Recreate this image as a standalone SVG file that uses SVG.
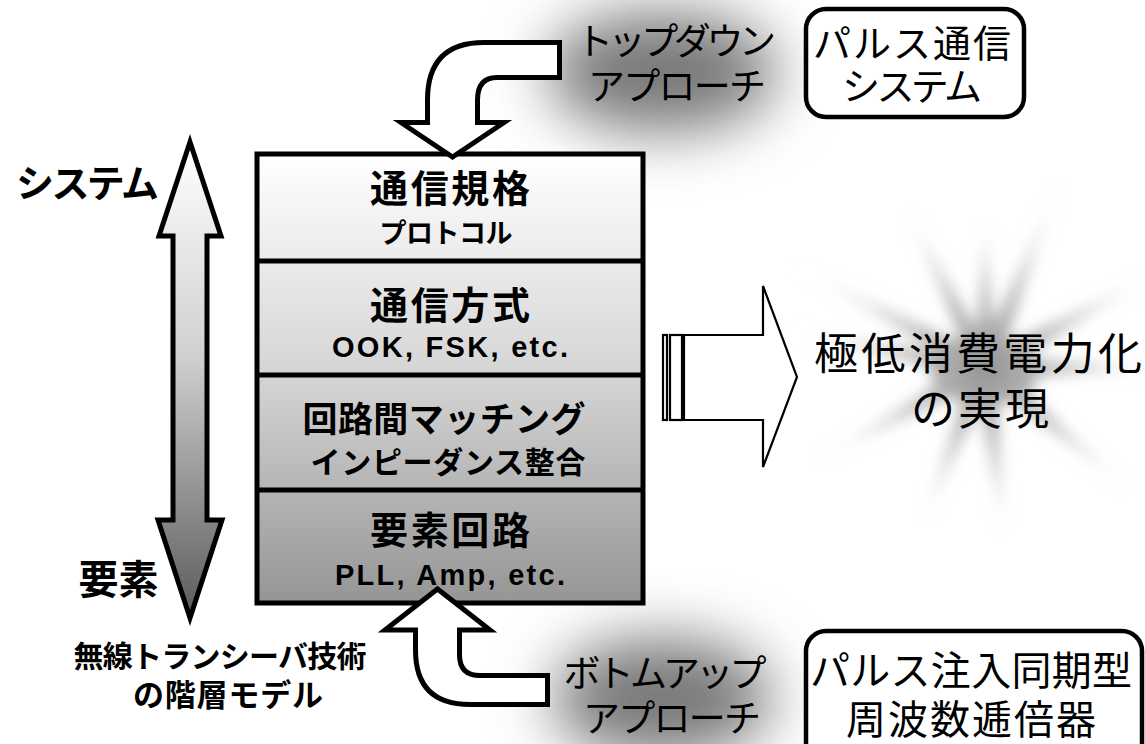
<svg xmlns="http://www.w3.org/2000/svg" width="1145" height="744" viewBox="0 0 1145 744">
<defs>
<style>
.jp{font-family:"Noto Sans CJK JP","Noto Sans CJK SC",sans-serif;fill:#000}
.b{font-weight:bold}
.lat{font-family:"Liberation Sans",Arial,sans-serif;font-weight:bold;fill:#000}
.bigarrow{fill:#fff;stroke:#000;stroke-width:5;stroke-linejoin:miter}
.thin{fill:#fff;stroke:#000;stroke-width:2.2}
</style>
<linearGradient id="stackG" gradientUnits="userSpaceOnUse" x1="0" y1="154" x2="0" y2="603">
<stop offset="0" stop-color="#ffffff"/>
<stop offset="0.5" stop-color="#d4d4d4"/>
<stop offset="1" stop-color="#959595"/>
</linearGradient>
<linearGradient id="leftG" gradientUnits="userSpaceOnUse" x1="0" y1="142" x2="0" y2="618">
<stop offset="0" stop-color="#ffffff"/>
<stop offset="0.45" stop-color="#d0d0d0"/>
<stop offset="1" stop-color="#5a5a5a"/>
</linearGradient>
<radialGradient id="burstG" gradientUnits="userSpaceOnUse" cx="985" cy="368" r="220">
<stop offset="0" stop-color="#949494"/>
<stop offset="0.45" stop-color="#d2d2d2"/>
<stop offset="1" stop-color="#ffffff" stop-opacity="0"/>
</radialGradient>
<filter id="blob" x="-100%" y="-100%" width="300%" height="300%">
<feGaussianBlur stdDeviation="30"/>
</filter>
<filter id="soft" x="-20%" y="-20%" width="140%" height="140%">
<feGaussianBlur stdDeviation="7"/>
</filter>
</defs>
<rect width="1145" height="744" fill="#fff"/>

<g id="glows">
<ellipse cx="662" cy="72" rx="115" ry="60" fill="#787878" filter="url(#blob)"/>
<ellipse cx="662" cy="698" rx="110" ry="60" fill="#787878" filter="url(#blob)"/>
<g filter="url(#soft)" fill="url(#burstG)">
<polygon points="780,331 987.1,356.2 982.9,379.8"/>
<polygon points="785,260 990.6,357.4 979.4,378.6"/>
<polygon points="910,214 995.8,362.7 974.2,373.3"/>
<polygon points="985,228 997,368 973,368"/>
<polygon points="1060,182 996.1,372.5 973.9,363.5"/>
<polygon points="1160,271 990.8,378.5 979.2,357.5"/>
<polygon points="1165,368 985,380 985,356"/>
<polygon points="1130,490 977.3,377.2 992.7,358.8"/>
<polygon points="1003,530 973.1,369.3 996.9,366.7"/>
<polygon points="925,517 973.9,363.5 996.1,372.5"/>
<polygon points="818,460 979.2,357.5 990.8,378.5"/>
<ellipse cx="985" cy="370" rx="55" ry="35"/>
</g>
</g>

<g id="stack">
<rect x="257" y="154" width="386" height="449" fill="url(#stackG)" stroke="#000" stroke-width="5"/>
<line x1="257" y1="261" x2="643" y2="261" stroke="#000" stroke-width="5"/>
<line x1="257" y1="375" x2="643" y2="375" stroke="#000" stroke-width="5"/>
<line x1="257" y1="490" x2="643" y2="490" stroke="#000" stroke-width="5"/>
</g>
<g id="layer1">
<text class="jp b" x="450" y="202" font-size="38" text-anchor="middle" textLength="160" lengthAdjust="spacing">通信規格</text>
<text class="jp b" x="446" y="243" font-size="27" text-anchor="middle" textLength="133" lengthAdjust="spacing">プロトコル</text>
</g>
<g id="layer2">
<text class="jp b" x="450" y="319" font-size="38" text-anchor="middle" textLength="160" lengthAdjust="spacing">通信方式</text>
<text class="lat" x="450" y="357" font-size="29" text-anchor="middle" textLength="236" lengthAdjust="spacing">OOK, FSK, etc.</text>
</g>
<g id="layer3">
<text class="jp b" x="444" y="432" font-size="35" text-anchor="middle" textLength="283" lengthAdjust="spacing">回路間マッチング</text>
<text class="jp b" x="448" y="473" font-size="30" text-anchor="middle" textLength="275" lengthAdjust="spacing">インピーダンス整合</text>
</g>
<g id="layer4">
<text class="jp b" x="450" y="544" font-size="38" text-anchor="middle" textLength="160" lengthAdjust="spacing">要素回路</text>
<text class="lat" x="450" y="585" font-size="29" text-anchor="middle" textLength="230" lengthAdjust="spacing">PLL, Amp, etc.</text>
</g>

<g id="connectors">
<path class="bigarrow" d="M559.5 42.5 H484 Q427.5 42.5 427.5 100 V122.5 H401 L452.5 157 L504 122.5 H477.5 V100 Q477.5 77.5 497 77.5 H559.5 Z"/>
<path class="bigarrow" d="M547.5 675.5 H480 Q459.5 675.5 459.5 655 V630 H490 L437.5 589 L385 630 H415.5 V650 Q415.5 704.5 470 704.5 H547.5 Z"/>
<path d="M190 142 L221 236 H207 V520 H222 L190 618 L158 520 H173 V236 H159 Z" fill="url(#leftG)" stroke="#000" stroke-width="5" stroke-linejoin="miter"/>
<g id="rightArrow">
<rect class="thin" x="663" y="335" width="4" height="85"/>
<rect class="thin" x="670" y="335" width="12" height="85"/>
<path class="thin" d="M684 335 H763 V286 L797 377 L763 467 V420 H684 Z"/>
</g>
</g>

<g id="axis-labels">
<text class="jp b" x="87.5" y="197" font-size="38" text-anchor="middle" textLength="143" lengthAdjust="spacing">システム</text>
<text class="jp b" x="118.5" y="594" font-size="40" text-anchor="middle" textLength="80" lengthAdjust="spacing">要素</text>
<text class="jp b" x="220" y="667" font-size="30" text-anchor="middle" textLength="293" lengthAdjust="spacing">無線トランシーバ技術</text>
<text class="jp b" x="228" y="706" font-size="31" text-anchor="middle" textLength="190" lengthAdjust="spacing">の階層モデル</text>
</g>

<g id="topdown-label">
<text class="jp" x="676" y="55" font-size="37" text-anchor="middle" textLength="200" lengthAdjust="spacing">トップダウン</text>
<text class="jp" x="677" y="100" font-size="37" text-anchor="middle" textLength="178" lengthAdjust="spacing">アプローチ</text>
</g>
<g id="bottomup-label">
<text class="jp" x="665" y="687" font-size="37" text-anchor="middle" textLength="203" lengthAdjust="spacing">ボトムアップ</text>
<text class="jp" x="672" y="732" font-size="37" text-anchor="middle" textLength="178" lengthAdjust="spacing">アプローチ</text>
</g>

<g id="pulse-system">
<rect x="806" y="9" width="218" height="108" rx="20" ry="20" fill="#fff" stroke="#000" stroke-width="4.5"/>
<text class="jp" x="912" y="57" font-size="38" text-anchor="middle" textLength="198" lengthAdjust="spacing">パルス通信</text>
<text class="jp" x="912" y="100" font-size="38" text-anchor="middle" textLength="140" lengthAdjust="spacing">システム</text>
</g>
<g id="multiplier">
<rect x="806" y="631" width="336" height="140" rx="20" ry="20" fill="#fff" stroke="#000" stroke-width="4.5"/>
<text class="jp" x="971" y="685" font-size="40" text-anchor="middle" textLength="322" lengthAdjust="spacing">パルス注入同期型</text>
<text class="jp" x="971" y="734" font-size="40" text-anchor="middle" textLength="250" lengthAdjust="spacing">周波数逓倍器</text>
</g>
<g id="result">
<text class="jp" x="978" y="370" font-size="44" text-anchor="middle" textLength="328" lengthAdjust="spacing">極低消費電力化</text>
<text class="jp" x="980" y="425" font-size="44" text-anchor="middle" textLength="138" lengthAdjust="spacing">の実現</text>
</g>
</svg>
